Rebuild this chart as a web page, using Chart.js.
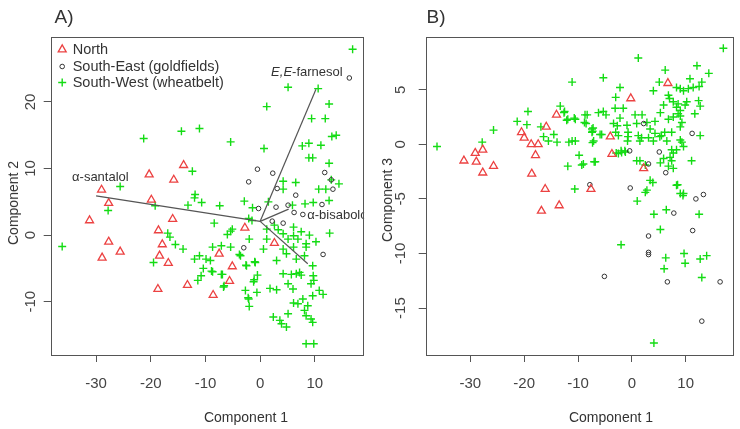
<!DOCTYPE html>
<html><head><meta charset="utf-8">
<script src="https://cdn.jsdelivr.net/npm/chart.js@4.4.1/dist/chart.umd.min.js"></script>
<style>
html,body{margin:0;padding:0;background:#fff;}
#wrap{position:relative;width:740px;height:429px;overflow:hidden;background:#fff;font-family:"Liberation Sans",Arial,sans-serif;color:#333;}
canvas{position:absolute;top:0;}
.t{position:absolute;white-space:nowrap;transform:translate(-50%,-50%);line-height:1;}
.r{transform:translate(-50%,-50%) rotate(-90deg);}
</style></head><body>
<div id="wrap">
<canvas id="cA" width="370" height="429" style="left:0"></canvas>
<canvas id="cB" width="370" height="429" style="left:370px"></canvas>
<div class="t" style="left:64px;top:16px;font-size:19px">A)</div>
<div class="t" style="left:436px;top:16px;font-size:19px">B)</div>
<div class="t" style="left:246px;top:417px;font-size:14px">Component 1</div>
<div class="t" style="left:611px;top:417px;font-size:14px">Component 1</div>
<div class="t r" style="left:13px;top:203px;font-size:14px">Component 2</div>
<div class="t r" style="left:387px;top:200px;font-size:14px">Component 3</div>
</div>
<script>
// ---------- data ----------
const xTicks = [-30, -20, -10, 0, 10];
const yTicksA = [-10, 0, 10, 20];
const yTicksB = [-15, -10, -5, 0, 5];
const groupNames = ['North', 'South-East (goldfields)', 'South-West (wheatbelt)'];

// Panel A: Component 1 vs Component 2
const northA = [[-27.7,4.8],[-19.9,5.3],[-31.2,2.2],[-16.0,2.4],[-18.6,0.7],[-27.7,-1.0],[-17.9,-1.4],[-25.6,-2.5],[-28.9,-3.4],[-18.4,-3.1],[-16.8,-4.2],[-18.7,-8.1],[-13.3,-7.5],[-29.0,6.8],[-20.3,9.1],[-15.8,8.3],[-14.0,10.5],[-2.8,1.1],[2.6,-1.2],[-7.5,-2.8],[-5.1,-4.7],[-5.6,-6.9],[-8.6,-9.0]];
const southEastA = [[16.3,23.6],[-0.5,9.9],[2.3,9.3],[-2.1,8.0],[3.1,7.0],[11.8,9.4],[13.0,8.3],[13.3,6.9],[6.5,6.0],[-0.3,4.0],[2.9,4.2],[5.1,4.5],[6.2,3.4],[7.8,3.1],[11.3,4.6],[2.2,2.1],[4.2,1.8],[-3.0,-1.9],[11.5,-2.9]];
const southWestA = [[16.9,27.9],[5.1,22.2],[10.6,22.0],[1.2,19.3],[12.6,19.7],[9.4,17.5],[11.9,17.5],[-21.3,14.5],[-14.4,15.6],[-11.1,16.0],[-5.4,14.0],[0.7,13.0],[7.7,13.4],[8.9,13.8],[11.1,13.5],[13.1,14.8],[13.9,15.0],[8.9,11.6],[9.6,11.6],[12.6,10.8],[-12.4,9.6],[4.2,8.1],[6.5,7.9],[4.2,6.9],[10.7,6.9],[12.0,6.9],[14.4,7.7],[13.0,8.3],[-25.6,7.3],[-11.9,6.1],[-27.8,3.7],[-19.2,4.4],[-13.2,4.5],[-10.7,4.9],[-12.0,5.6],[-7.4,4.4],[-2.9,5.1],[-1.4,4.1],[1.5,5.0],[8.2,4.7],[9.7,4.9],[12.6,5.2],[5.9,4.5],
[-2.1,2.5],[-1.5,2.2],[-8.4,1.8],[-5.1,0.9],[-6.0,0.1],[-2.0,-0.6],[1.2,0.9],[3.3,0.8],[6.1,1.2],[6.1,-0.1],[4.2,0.2],[5.1,-0.6],[6.9,-0.6],[1.2,-0.6],[0.6,-2.1],[4.2,-2.1],[6.1,-1.8],[8.4,-1.3],[8.4,-1.8],[-8.7,-1.8],[-7.1,-1.6],[-5.4,-1.8],[-3.6,-3.1],[-2.6,-4.5],[-0.9,-4.1],[-9.1,-3.8],[-8.7,-5.5],[-7.1,-5.9],[-6.6,-7.6],[-2.7,-8.3],[-0.6,-8.6],[-0.5,-6.0],[-1.2,-7.0],[-2.1,-9.6],[-2.0,-10.7],[1.8,-8.0],[3.0,-8.2],[4.2,-5.8],[5.7,-5.9],[6.6,-5.8],[7.2,-5.6],[7.5,-6.0],[5.1,-7.3],[6.0,-8.1],[9.6,-4.6],[9.7,-6.1],[9.8,-6.8],[9.3,-7.3],[10.8,-8.3],[11.5,-8.9],[9.6,-9.1],[6.1,-10.2],[6.9,-10.3],[7.8,-9.6],[8.7,-10.6],[8.1,-11.3],[8.4,-12.1],[9.3,-12.6],[9.6,-13.1],[2.4,-12.3],[3.6,-12.8],[4.8,-13.8],[3.9,-13.3],[5.1,-11.8],[8.4,-16.3],[9.8,-16.3],[12.7,0.3],[4.8,-2.8],[3.0,-3.8],[6.6,-3.6],[8.1,-3.1],
[-36.2,-1.7],[-16.9,0.3],[-16.5,-0.3],[-15.5,-1.4],[-14.1,-2.1],[-19.5,-4.1],[-12.0,-3.6],[-11.1,-3.1],[-9.9,-3.6],[-10.4,-5.0],[-10.8,-6.1],[-11.4,-6.8],[-6.7,-7.8],[-2.5,-4.6],[-1.0,-4.0],[-3.8,-2.9],[-5.4,0.6],[-8.9,-5.4],[-6.9,-5.9],[-1.1,-6.7],[-2.2,-9.4],[2.6,1.5],[7.5,0.5],[9.0,0.0],[10.2,-1.0]];

// Panel B: Component 1 vs Component 3
const northB = [[-14.0,2.7],[-15.9,1.6],[-20.5,1.1],[-20.0,0.6],[-18.7,0.0],[-17.4,0.0],[-17.9,-1.0],[-18.6,-2.7],[-16.1,-4.1],[-27.7,-0.5],[-29.1,-0.8],[-31.2,-1.5],[-28.9,-1.6],[-27.7,-2.6],[-25.7,-2.0],[-16.8,-6.1],[-13.5,-5.6],[6.7,5.6],[-0.2,4.2],[-4.0,0.7],[-3.7,-0.9],[2.2,-2.2],[-7.6,-4.1]];
const southEastB = [[2.2,1.9],[11.2,1.0],[-0.4,-0.6],[5.1,-0.7],[3.1,-1.8],[6.3,-2.6],[-7.8,-3.7],[-0.3,-4.0],[13.3,-4.6],[11.9,-5.0],[7.8,-6.3],[11.3,-7.9],[3.1,-8.4],[3.1,-9.9],[3.1,-10.1],[-5.1,-12.1],[6.6,-12.6],[16.4,-12.6],[13.0,-16.2]];
const southWestB = [[17.0,8.8],[1.2,7.9],[12.1,7.2],[6.2,6.8],[14.3,6.5],[-5.3,6.1],[5.1,5.7],[10.8,6.0],[13.0,5.7],[12.5,5.3],[-2.2,5.2],[8.3,5.2],[9.0,5.1],[9.6,4.9],[10.5,5.1],[11.4,5.2],[4.0,4.9],[6.8,4.5],[7.0,4.2],[-3.0,4.3],[7.7,3.9],[8.6,3.7],[8.3,3.4],[9.0,3.1],[9.9,3.6],[10.2,3.9],[5.9,3.6],[12.4,4.0],[12.7,3.5],[-3.1,3.3],[-1.6,3.3],[5.3,2.9],[8.6,2.8],[9.0,2.6],[11.7,2.8],[-8.3,2.7],[-6.2,2.9],[-5.3,3.0],[-4.8,2.7],[-8.8,2.0],[0.6,2.7],[1.9,2.7],[-2.2,2.4],[4.3,2.1],[6.8,2.3],[7.7,2.5],[9.3,2.0],[9.0,1.6],[-3.4,1.9],[-2.7,1.7],[-7.4,1.4],[-7.4,1.1],[-0.9,1.75],[0.9,1.9],[2.8,2.0],[3.4,1.4],[4.3,1.0],[5.5,0.8],[6.1,1.1],[7.4,1.1],[-5.6,0.9],[-3.0,1.1],[-2.5,0.8],[-0.7,1.1],[-0.7,0.7],[1.2,0.8],[1.8,0.6],[1.5,0.3],[-7.1,0.3],[-0.8,0.3],[3.1,0.6],[4.0,0.3],[5.2,0.7],[6.5,0.3],[7.4,-0.5],[9.0,0.4],[9.3,0.2],[9.6,-0.2],[8.3,-0.5],[7.7,-0.8],[7.1,-1.2],[5.9,-1.3],[5.3,-1.7],[7.4,-1.5],[12.7,0.8],[1.5,-1.5],[2.5,-1.9],[-2.5,-0.85],[-1.9,-0.75],[-1.3,-0.6],[-9.3,-1.9],[-6.8,-1.6],[8.3,-3.75],[3.4,-3.3],[2.8,-4.2],[9.0,-4.5],[11.1,-1.5],
[-36.2,-0.2],[-27.8,0.2],[-25.7,1.3],[-21.3,2.1],[-19.3,3.0],[-19.5,1.8],[-16.9,1.6],[-16.4,0.7],[-15.5,0.3],[-14.5,0.9],[-13.9,0.2],[-13.3,3.5],[-12.5,3.0],[-11.9,2.3],[-10.5,2.3],[-11.1,5.7],[-11.7,0.2],[-11.1,0.3],[-10.5,0.3],[-11.9,-2.0],[-10.6,-4.1],[-9.8,-1.0],[-9.0,-1.8],[-7.0,-1.6],[-8.7,2.7],[-8.5,1.9],[-7.2,1.5],[-7.3,1.2],[-7.3,0.15],[-5.9,0.9],[-12.6,2.9],[-12.1,2.2],[-10.7,2.4],
[0.9,-1.5],[3.9,-3.5],[2.5,-4.4],[8.5,-3.7],[9.6,-4.5],[7.7,-2.2],[6.8,-2.0],[-2.0,-0.6],[-1.2,-0.7],[-2.9,-0.8],
[1.0,-5.2],[4.1,-6.4],[6.4,-6.0],[12.5,-6.4],[5.3,-7.8],[-2.0,-9.2],[6.3,-10.4],[6.0,-11.4],[9.7,-10.0],[9.9,-10.9],[12.7,-10.5],[13.9,-10.2],[13.0,-12.2],[4.1,-18.2],[9.5,-4.7]];

// Biplot loading vectors in panel A (origin -> end) and their labels
const loadingOrigin = [0.0, 2.07];
const loadingEnds = [[-30.0, 5.9], [10.2, 21.9], [5.2, 3.9], [8.7, -4.3]];
const loadingNames = ['α-santalol', 'E,E-farnesol', 'α-bisabolol'];
const loadingLabelAt = [[-34.4, 8.6], [2.0, 24.4], [8.6, 2.9]];

// ---------- styles ----------
const FONT = '"Liberation Sans", Arial, sans-serif';
const RED = '#ec4242', GREEN = '#14dc14', DARK = '#333333', AXIS = '#555555';
const toXY = a => a.map(p => ({x: p[0], y: p[1]}));

function groupDatasets(n, se, sw) {
  return [
    {label: groupNames[0], data: toXY(n), pointStyle: 'triangle', radius: 4.6, borderWidth: 1.3, borderColor: RED, backgroundColor: 'rgba(0,0,0,0)'},
    {label: groupNames[1], data: toXY(se), pointStyle: 'circle', radius: 2.3, borderWidth: 1, borderColor: DARK, backgroundColor: 'rgba(0,0,0,0)'},
    {label: groupNames[2], data: toXY(sw), pointStyle: 'cross', radius: 4, borderWidth: 1.4, borderColor: GREEN, backgroundColor: 'rgba(0,0,0,0)'}
  ];
}
function lineDatasets() {
  return loadingEnds.map((e, i) => ({
    type: 'line', label: 'loading' + i,
    data: [{x: loadingOrigin[0], y: loadingOrigin[1]}, {x: e[0], y: e[1]}],
    borderColor: '#555', borderWidth: 1.2, pointRadius: 0, fill: false, showLine: true
  }));
}

const boxPlugin = {
  id: 'box',
  afterDraw(chart) {
    const a = chart.chartArea, ctx = chart.ctx;
    ctx.save(); ctx.strokeStyle = AXIS; ctx.lineWidth = 1;
    ctx.strokeRect(Math.round(a.left) + 0.5, Math.round(a.top) + 0.5, Math.round(a.right - a.left) - 1, Math.round(a.bottom - a.top));
    ctx.restore();
  }
};
const loadingLabelPlugin = {
  id: 'loadLabels',
  afterDatasetsDraw(chart) {
    const a = chart.chartArea, ctx = chart.ctx, xs = chart.scales.x, ys = chart.scales.y;
    ctx.save();
    ctx.beginPath(); ctx.rect(a.left, a.top, a.right - a.left, a.bottom - a.top); ctx.clip();
    ctx.fillStyle = DARK; ctx.textBaseline = 'middle'; ctx.textAlign = 'left';
    loadingNames.forEach((name, i) => {
      let px = xs.getPixelForValue(loadingLabelAt[i][0]);
      const py = ys.getPixelForValue(loadingLabelAt[i][1]);
      if (name.indexOf('E,E') === 0) {
        ctx.font = 'italic 13px ' + FONT; ctx.fillText('E,E', px, py);
        px += ctx.measureText('E,E').width;
        ctx.font = '13px ' + FONT; ctx.fillText(name.slice(3), px, py);
      } else {
        ctx.font = '13px ' + FONT; ctx.fillText(name, px, py);
      }
    });
    ctx.restore();
  }
};
const legendPlugin = {
  id: 'insideLegend',
  afterDraw(chart) {
    const ctx = chart.ctx, a = chart.chartArea;
    const rowsY = [49.5, 66.5, 82.5];
    ctx.save();
    ctx.font = '14.5px ' + FONT; ctx.textBaseline = 'middle'; ctx.textAlign = 'left';
    [0, 1, 2].forEach(i => {
      const ds = chart.data.datasets.find(d => d.label === groupNames[i]);
      ctx.strokeStyle = ds.borderColor; ctx.fillStyle = 'rgba(0,0,0,0)'; ctx.lineWidth = ds.borderWidth;
      Chart.helpers.drawPoint(ctx, {pointStyle: ds.pointStyle, radius: ds.radius, borderWidth: ds.borderWidth, rotation: 0}, a.left + 11.5, rowsY[i]);
      ctx.fillStyle = DARK;
      ctx.fillText(groupNames[i], a.left + 22, rowsY[i]);
    });
    ctx.restore();
  }
};

function makeChart(id, datasets, yMin, yMax, yTicks, yWidth, padRight, yPad, plugins) {
  return new Chart(document.getElementById(id), {
    type: 'scatter',
    data: {datasets},
    options: {
      responsive: false, animation: false, events: [],
      layout: {padding: {top: 37, right: padRight, left: 0, bottom: 0}},
      plugins: {legend: {display: false}, tooltip: {enabled: false}},
      scales: {
        x: {
          type: 'linear', min: -38.3, max: 19.0,
          afterBuildTicks: s => { s.ticks = xTicks.map(v => ({value: v})); },
          afterFit: s => { s.height = 74; },
          grid: {drawOnChartArea: false, drawTicks: true, tickLength: 7, color: AXIS, lineWidth: 1},
          border: {display: false},
          ticks: {autoSkip: false, maxRotation: 0, padding: 13, color: '#444', font: {size: 15, family: FONT}}
        },
        y: {
          type: 'linear', min: yMin, max: yMax,
          afterBuildTicks: s => { s.ticks = yTicks.map(v => ({value: v})); },
          afterFit: s => { s.width = yWidth; },
          grid: {drawOnChartArea: false, drawTicks: true, tickLength: 7, color: AXIS, lineWidth: 1},
          border: {display: false},
          ticks: {autoSkip: false, minRotation: 90, maxRotation: 90, crossAlign: 'center', padding: yPad, color: '#444', font: {size: 15, family: FONT}}
        }
      }
    },
    plugins
  });
}

makeChart('cA', lineDatasets().concat(groupDatasets(northA, southEastA, southWestA)), -18.0, 29.75, yTicksA, 50.7, 1, 2, [boxPlugin, loadingLabelPlugin, legendPlugin]);
makeChart('cB', groupDatasets(northB, southEastB, southWestB), -19.3, 9.83, yTicksB, 55.7, 5.7, 7, [boxPlugin]);
</script>
</body></html>
